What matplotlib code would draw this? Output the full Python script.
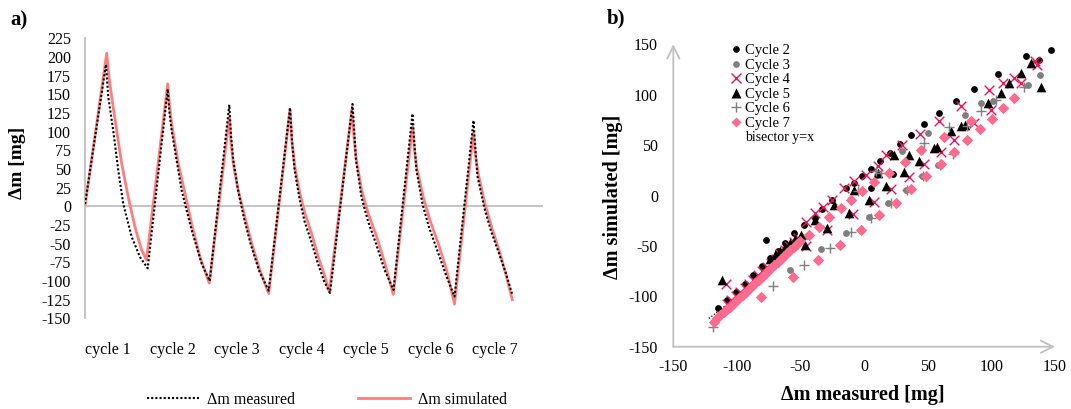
import numpy as np
import matplotlib
matplotlib.use('Agg')
import matplotlib.pyplot as plt
from matplotlib.lines import Line2D

plt.rcParams['font.family'] = ['Liberation Serif', 'DejaVu Serif']
plt.rcParams['axes.unicode_minus'] = False

# ---- panel a: time series (x = sample index) ----
t_sim = [0, 21.7, 24, 26.7, 31.7, 36.7, 43.3, 50, 56.7, 61.5,
         82.7, 84.5, 86.7, 93.3, 100, 106.7, 115, 124.3,
         144.3, 146, 148.3, 153.3, 160, 166.7, 175, 183.7,
         205, 207, 210, 215, 220, 226.7, 233.3, 240, 244.3,
         267, 269, 271, 276.7, 283.3, 291.7, 300, 308.3,
         327.5, 329.5, 331.7, 338.3, 345, 353.3, 361.7, 369.5,
         388.3, 390.5, 393.3, 400, 406.7, 415, 421, 427.3]
dm_sim = [0, 205, 173, 146, 101, 57, 12, -28, -59, -72,
          164, 135, 110, 57, 17, -24, -68, -103,
          119, 85, 57, 21, -15, -50, -86, -117,
          129.7, 85, 52, 16.5, -10, -37, -68, -94.5, -114.5,
          130, 92, 65, 21, -10, -41, -77, -118,
          107, 75, 52, 12, -19, -50, -86, -131,
          98, 68, 43, 3, -28, -63, -92, -125]

t_meas = [0, 21, 23.3, 28.3, 33.3, 38.3, 46.7, 55, 62.7,
          82.7, 84.5, 86.7, 96.7, 106.7, 116.7, 124.7,
          144.3, 146, 148.3, 153, 159, 165.5, 174, 183.7,
          205, 207, 209.5, 214.5, 219.5, 226, 232.5, 239, 245,
          267.5, 269.5, 271, 276.5, 283, 291, 299.5, 308.5,
          327.5, 329.5, 331.5, 337.5, 344, 352.5, 361, 369.5,
          388.5, 390.5, 392.5, 399.5, 406, 414.5, 421, 427]
dm_meas = [3, 190, 146, 101, 48, 3, -41, -68, -83,
           157, 125, 101, 21, -32, -77, -100,
           136, 95, 62, 22, -16, -50, -86, -113,
           132, 88, 50, 10, -20, -46, -75, -100, -116,
           137, 95, 62, 12, -20, -50, -85, -112,
           124, 82, 48, 3, -28, -60, -92, -121,
           115, 75, 40, -3, -33, -65, -90, -117]

cycle_pos = [22.7, 87.7, 152.3, 216.7, 281, 345.7, 410]
cycle_labels = ['cycle 1', 'cycle 2', 'cycle 3', 'cycle 4', 'cycle 5', 'cycle 6', 'cycle 7']

# ---- panel b: simulated vs measured per cycle ----
c2_meas = [147, 137.5, 127, 105, 86.5, 72, 59, 47, 37, 28.5, 20, 12.5, 5, -1.5, -8, -14.5,
           -25, -33, -39, -47, -55, -62, -68, -74, -80, -87, -94, -101, -108, -115,
           5, 23, -77.3]
c2_sim = [144.5, 134.5, 138.5, 120.5, 106, 93.5, 82, 71, 60.5, 51, 42.5, 34, 26, 19, 12.5, 7,
          -4, -13, -22, -29, -37, -47, -55, -62, -70, -79, -88, -96, -104, -112,
          7, 21, -44]

c3_meas = [-58, -34, -14, 3.5, 18.5, 32.5, 45.5, 58, 79, 101, 128.5, 138.4,
           -45, -28, -10, 10, 30, 50, 92]
c3_sim = [-74, -53, -37, -21.5, -7.5, 5, 19, 30, 80, 94, 110, 120,
          -40, -22, -3, 20, 44, 62, 92]

c4_meas = [134.5, 118, 109, 98.5, 76, 59, 44, 30, 17, 10.5, 1.5, -8, -15.5, -25, -32, -39, -46,
           136, 123, 99.5, 86.5, 71, 60.5, 47, 35, 21, 8, -8.5, -29, -46,
           -108.7,
           -108, -104.5, -101, -97.5, -94, -90.5, -87, -83.5, -80, -76.5, -73, -69.5,
           -66, -62.5, -59, -55.5, -52]
c4_sim = [133, 116.5, 111.5, 105, 88.5, 73.5, 61, 50, 40.5, 29, 20.5, 14, 7.5, -4.5, -11, -17.5, -26,
          129.5, 111.5, 85, 72, 55.5, 43.5, 31, 18.5, 6.5, -6, -18.5, -34, -50.5,
          -87.6,
          -108, -104, -100, -96, -91.5, -87.5, -83.5, -79, -75, -71, -67, -63,
          -58.5, -54.5, -50.5, -46.5, -42.5]

c5_meas = [-112, -74, -70, -66, -62, -58, -54, -50, -39, -24, -8, 10.5, 23.5, 35.5, 55, 68,
           -46.5, -29, -12, 3.5, 17.5, 31, 43, 57.5, 76, 79, 97, 107.5, 114, 123, 131, 139]
c5_sim = [-84, -63, -59.5, -55.5, -51.5, -47.5, -43.5, -39.5, -24, -9, 5.5, 22, 40.5, 40.5, 47, 64,
          -49, -32, -17.5, -4.5, 9, 23, 34, 48.5, 69, 70, 91.5, 101.5, 112, 121.5, 131, 108]

c6_meas = [-119, -72, -47, -27, -10, 5, 21, 34, 46, 60, 70, 81, 92, 103.5, 126,
           67, 47, 13, -5, 9]
c6_sim = [-130, -89.5, -69, -52, -36.7, -22.5, -7.5, 5.5, 19.5, 30, 41, 68.5, 84, 95, 108,
          67.5, 52, 22, 4, 24.5]

c7_meas = [-118, -115.5, -113, -110.5, -108, -105.5, -103, -100.5, -98, -95.5, -93, -90.5,
           -88, -85.5, -83, -80.5, -78, -75.5, -73, -70.5, -68, -65.5, -63, -60.5, -58, -55.5,
           -53, -50.5,
           -81, -56, -36, -19, -2.5, 11.3, 25, 36.7, 48.5, 60.3, 70.8, 80.7, 91, 100.5, 109.3, 118,
           -43, -35.4, -27.5, -18.3, -10.5, -2, 8, 19.7, 32, 45, 63, 84]
c7_sim = [-125, -122, -119, -116, -113, -110.5, -107.5, -104.5, -101.5, -98.5, -95.5, -92.5,
          -89.5, -86.5, -83.5, -80.5, -77.5, -75, -72, -69, -66, -63, -60, -57, -54, -51,
          -48, -45,
          -101, -81, -64, -49, -34, -19.5, -7, 6.3, 19.5, 31.4, 42.7, 55.3, 66, 76, 86.7, 97,
          -39, -31, -21, -12.5, -4.3, 4, 13, 22.5, 33, 45.3, 58.5, 74]

bisector = [-122, -50]

W, H = 1071, 409
fig = plt.figure(figsize=(W / 100, H / 100), dpi=100)

grey = '#BFBFBF'
fs = 11.5

# ---------------- panel a ----------------
ax1 = fig.add_axes([85 / W, 1 - 318.3 / H, (543 - 85) / W, (318.3 - 38.3) / H])
ax1.axhline(0, color=grey, lw=1.3, zorder=1)
ax1.plot(t_meas, dm_meas, color='black', lw=1.5, linestyle=(0, (1, 1)), zorder=3,
         label='Δm measured')
ax1.plot(t_sim, dm_sim, color='#FF7F7F', lw=2.0, zorder=2, label='Δm simulated')
ax1.set_xlim(0, 458)
ax1.set_ylim(-150, 225)
ax1.set_yticks(np.arange(-150, 226, 25))
ax1.set_xticks(cycle_pos)
ax1.set_xticklabels(cycle_labels)
for s in ['top', 'right', 'bottom']:
    ax1.spines[s].set_visible(False)
ax1.spines['left'].set_color(grey)
ax1.spines['left'].set_linewidth(1.3)
ax1.tick_params(axis='y', length=0, pad=10, labelsize=fs)
ax1.tick_params(axis='x', length=0, pad=17, labelsize=fs)

fig.text(18 / W, 1 - 163 / H, 'Δm [mg]', rotation=90, fontsize=14, fontweight='bold',
         ha='center', va='center')
fig.text(10 / W, 1 - 20 / H, 'a)', fontsize=15, fontweight='bold', ha='left', va='center')

ax1.legend(loc='center', bbox_to_anchor=(327 / W, 1 - 400 / H), bbox_transform=fig.transFigure,
           ncol=2, frameon=False, fontsize=fs, handlelength=3.2, columnspacing=4.0,
           handletextpad=0.5, borderpad=0)

# ---------------- panel b ----------------
ax2 = fig.add_axes([673.3 / W, 1 - 346.7 / H, (1055 - 673.3) / W, (346.7 - 44.3) / H])
ax2.plot(bisector, bisector, color='black', lw=0.9, linestyle=(0, (1, 1.5)), zorder=1)
ax2.scatter(c2_meas, c2_sim, s=24, marker='o', color='black', linewidths=0, zorder=2)
ax2.scatter(c3_meas, c3_sim, s=24, marker='o', color='#7F7F7F', linewidths=0, zorder=3)
ax2.scatter(c4_meas, c4_sim, s=48, marker='x', color='#F5105A', linewidths=1.0, zorder=4)
ax2.scatter(c5_meas, c5_sim, s=48, marker='^', color='black', linewidths=0, zorder=5)
ax2.scatter(c6_meas, c6_sim, s=42, marker='+', color='#7F7F7F', linewidths=1.0, zorder=6)
ax2.scatter(c7_meas, c7_sim, s=34, marker='D', color='#FF6A8F', linewidths=0, zorder=7)
ax2.set_xlim(-150, 150)
ax2.set_ylim(-150, 150)
ax2.set_xticks(np.arange(-150, 151, 50))
ax2.set_yticks(np.arange(-150, 151, 50))
for s in ax2.spines.values():
    s.set_visible(False)
ax2.tick_params(axis='x', length=0, pad=9, labelsize=fs)
ax2.tick_params(axis='y', length=0, pad=11, labelsize=fs)
arrow = dict(arrowstyle='->', color=grey, lw=1.3, mutation_scale=22, shrinkA=0, shrinkB=0)
ax2.annotate('', xy=(0, 1), xytext=(0, 0), xycoords='axes fraction', arrowprops=arrow,
             annotation_clip=False)
ax2.annotate('', xy=(1, 0), xytext=(0, 0), xycoords='axes fraction', arrowprops=arrow,
             annotation_clip=False)

fig.text(863 / W, 1 - 395 / H, 'Δm measured [mg]', fontsize=14.5, fontweight='bold',
         ha='center', va='center')
fig.text(613 / W, 1 - 197 / H, 'Δm simulated [mg]', rotation=90, fontsize=14.5,
         fontweight='bold', ha='center', va='center')
fig.text(607 / W, 1 - 18 / H, 'b)', fontsize=15, fontweight='bold', ha='left', va='center')

handles = [
    Line2D([], [], ls='none', marker='o', ms=4.8, color='black', mec='none'),
    Line2D([], [], ls='none', marker='o', ms=4.8, color='#7F7F7F', mec='none'),
    Line2D([], [], ls='none', marker='x', ms=7, color='#F5105A', mew=1.0),
    Line2D([], [], ls='none', marker='^', ms=6.5, color='black', mec='none'),
    Line2D([], [], ls='none', marker='+', ms=6.5, color='#7F7F7F', mew=1.0),
    Line2D([], [], ls='none', marker='D', ms=5, color='#FF6A8F', mec='none'),
    Line2D([], [], ls='none'),
]
labels = ['Cycle 2', 'Cycle 3', 'Cycle 4', 'Cycle 5', 'Cycle 6', 'Cycle 7', 'bisector y=x']
leg = ax2.legend(handles, labels, loc='upper left', bbox_to_anchor=(731 / W, 1 - 44 / H),
                 bbox_transform=fig.transFigure, frameon=False, fontsize=10.5,
                 handlelength=0.7, handletextpad=0.25, labelspacing=0.09, borderpad=0,
                 borderaxespad=0)
leg.get_texts()[-1].set_fontsize(10)

fig.savefig('out.png', dpi=100)
